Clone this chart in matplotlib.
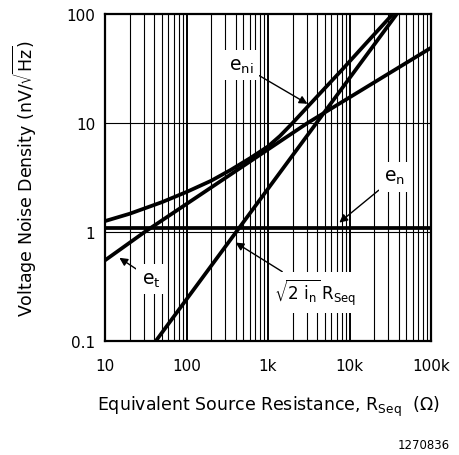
import matplotlib
matplotlib.use('Agg')
import matplotlib.pyplot as plt

plt.rcParams['font.family'] = ['DejaVu Sans']
plt.rcParams['mathtext.default'] = 'regular'

# values (R in ohms, noise in nV/rtHz)
r_en = [10, 100000]
en = [1.1, 1.1]

r_et = [10, 30.6, 3050, 100000]
et = [0.55, 1.0, 10, 49]

r_in = [42, 38000]
in_r = [0.1, 100]

r_eni = [10, 20, 50, 100, 200, 350, 600, 1000, 1400, 2000, 4000, 8000, 16000, 34000]
eni = [1.26, 1.47, 1.88, 2.33, 2.95, 3.72, 4.75, 6.1, 7.6, 10, 17.5, 30.5, 54, 100]

xticks = [10, 100, 1000, 10000, 100000]
xlabels = ['10', '100', '1k', '10k', '100k']
yticks = [0.1, 1, 10, 100]
ylabels = ['0.1', '1', '10', '100']

fig = plt.figure(figsize=(4.59, 4.56), dpi=100)
ax = fig.add_axes([0.2288, 0.25, 0.7102, 0.717])
ax.set_xscale('log')
ax.set_yscale('log')
ax.set_xlim(10, 100000)
ax.set_ylim(0.1, 100)

# grid: every minor value on x, decades only on y
for d in xticks[:-1]:
    for k in range(2, 10):
        ax.axvline(k * d, color='black', lw=0.8, zorder=1)
for d in xticks[1:-1]:
    ax.axvline(d, color='black', lw=1.4, zorder=1)
for d in yticks[1:-1]:
    ax.axhline(d, color='black', lw=0.8, zorder=1)

lw = 2.7
ax.plot(r_en, en, color='black', lw=lw, zorder=2)
ax.plot(r_et, et, color='black', lw=lw, zorder=2)
ax.plot(r_in, in_r, color='black', lw=lw, zorder=2)
ax.plot(r_eni, eni, color='black', lw=lw, zorder=2)

ax.set_xticks(xticks)
ax.set_xticklabels(xlabels)
ax.set_yticks(yticks)
ax.set_yticklabels(ylabels)
ax.minorticks_off()
ax.tick_params(length=0, labelsize=11)
ax.tick_params(axis='x', pad=12)
ax.tick_params(axis='y', pad=7)
for s in ax.spines.values():
    s.set_linewidth(1.6)

box = dict(facecolor='white', edgecolor='none', pad=4)
arrow = dict(arrowstyle='-|>', color='black', lw=1.0, mutation_scale=12,
             shrinkA=0, shrinkB=0)
ax.annotate('e$_{ni}$', xy=(3050, 15), xytext=(470, 34), fontsize=13.5,
            ha='center', va='center', bbox=box, arrowprops=arrow, zorder=4)
ax.annotate('e$_{n}$', xy=(7500, 1.22), xytext=(36000, 3.2), fontsize=13.5,
            ha='center', va='center', bbox=box, arrowprops=arrow, zorder=4)
ax.annotate('e$_{t}$', xy=(15, 0.58), xytext=(37, 0.37), fontsize=13.5,
            ha='center', va='center', bbox=box, arrowprops=arrow, zorder=4)
ax.annotate(r'$\sqrt{2\ i_n}\,R_{Seq}$', xy=(400, 0.8), xytext=(3800, 0.28),
            fontsize=12, ha='center', va='center', bbox=box, arrowprops=arrow,
            zorder=4)

ax.set_xlabel(r'Equivalent Source Resistance, R$_{Seq}$  ($\Omega$)',
              fontsize=12.5, va='center')
ax.xaxis.set_label_coords(0.5, -0.199)
ax.set_ylabel(r'Voltage Noise Density (nV/$\sqrt{Hz}$)', fontsize=12.5,
              va='center')
ax.yaxis.set_label_coords(-0.245, 0.5)

fig.text(0.98, 0.024, '1270836', fontsize=8.5, ha='right', va='center')

fig.savefig('out.png', dpi=100)
